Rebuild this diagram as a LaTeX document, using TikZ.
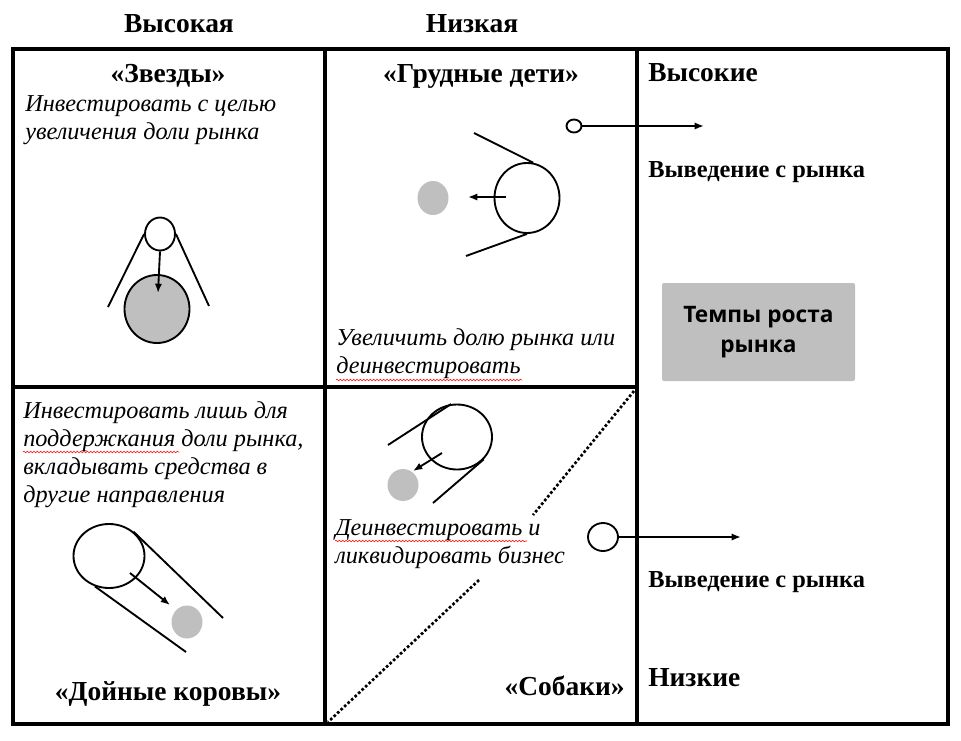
\documentclass[tikz,border=0pt]{standalone}
\usepackage{fontspec}
\setmainfont{Liberation Serif}
\newfontfamily\boxfont{Open Sans}
\usetikzlibrary{calc,math,shapes.geometric,arrows.meta,decorations.pathmorphing}

\definecolor{dotgray}{RGB}{191,191,191}
\definecolor{boxgray}{RGB}{191,191,191}

\begin{document}
\begin{tikzpicture}[x=0.75pt,y=-0.75pt,
  head/.style={font=\fontsize{20.6}{24}\selectfont\bfseries, inner sep=0pt},
  exit/.style={font=\fontsize{18.3}{22}\selectfont\bfseries, inner sep=0pt},
  note/.style={font=\fontsize{18.2}{21}\selectfont\itshape, align=left, inner sep=0pt},
  ring/.style 2 args={ellipse, draw, line width=1.4pt, inner sep=0pt, minimum width=#1, minimum height=#2},
  dot/.style 2 args={ellipse, fill=dotgray, inner sep=0pt, minimum width=#1, minimum height=#2},
  tail/.style={line width=1.4pt},
  arr/.style={line width=1.4pt, -{Latex[length=7pt,width=5.5pt]}},
  dots/.style={line width=2pt, dash pattern=on 2pt off 1.6pt},
  typo/.style={red, line width=0.4pt, decorate, decoration={snake, amplitude=0.6pt, segment length=2.5pt}}]

  \tikzmath{
    real \xa, \xb, \xc, \xd, \ya, \yb, \yc;
    \xa = 13; \xb = 325; \xc = 637; \xd = 948;
    \ya = 49; \yb = 387; \yc = 724;
  }

  \useasboundingbox (0,0) rectangle (961,740);

  % table
  \draw[line width=2.6pt] (\xa,\ya) rectangle (\xd,\yc);
  \draw[line width=2.6pt] (\xb,\ya) -- (\xb,\yc) (\xc,\ya) -- (\xc,\yc) (\xa,\yb) -- (\xc,\yb);

  % column heads
  \node[head, anchor=base] (high) at (179,32) {Высокая};
  \node[head, anchor=base] (low) at (472,32) {Низкая};

  % quadrant names
  \node[head, anchor=base] (stars) at (168,82) {«Звезды»};
  \node[head, anchor=base] (babies) at (481,82) {«Грудные дети»};
  \node[head, anchor=base] (cows) at (168,700) {«Дойные коровы»};
  \node[head, anchor=base east] (dogs) at (625,695) {«Собаки»};

  % right column
  \node[head, anchor=base west] (hiRate) at (648,81) {Высокие};
  \node[exit, anchor=base west] (hiOut) at (648,177) {Выведение с рынка};
  \node[exit, anchor=base west] (loOut) at (648,587) {Выведение с рынка};
  \node[head, anchor=base west] (loRate) at (648,686) {Низкие};
  \node[fill=boxgray, rounded corners=1.5pt, minimum width=144.75pt, minimum height=73.5pt,
    font=\boxfont\bfseries\fontsize{17}{22.5}\selectfont, align=center] (rate) at (758.5,332) {Темпы роста\\рынка};

  % notes (anchored at the last line)
  \node[note, anchor=base west] (starNote) at (25,139) {Инвестировать с целью\\увеличения доли рынка};
  \node[note, anchor=base west] (babyNote) at (336,373) {Увеличить долю рынка или\\деинвестировать};
  \node[note, anchor=base west] (cowNote) at (23,502) {Инвестировать лишь для\\поддержкания доли рынка,\\вкладывать средства в\\другие направления};
  \node[note, anchor=base west] (dogNote) at (335,563) {Деинвестировать и\\ликвидировать бизнес};
  \draw[typo] (336,380) -- (522,380);
  \draw[typo] (23,452) -- (179,452);
  \draw[typo] (335,541) -- (527,541);

  % stars
  \node[ring={48.75pt}{51pt}, fill=dotgray] (bStar) at (157,309) {};
  \node[ring={22.5pt}{24.75pt}] (sStar) at (160,234) {};
  \coordinate (sL) at (108,307);
  \coordinate (sR) at (209,306);
  \coordinate (sTip) at (158,293);
  \draw[tail] (sStar.west) -- (sL);
  \draw[tail] (sStar.east) -- (sR);
  \draw[arr] (sStar.south) -- (sTip);

  % babies
  \node[ring={48.75pt}{52.5pt}] (qRing) at (527,198) {};
  \node[dot={23.25pt}{25.5pt}] (qDot) at (433,198) {};
  \coordinate (qUp) at (474,133);
  \coordinate (qDn) at (466,256);
  \coordinate (qTail) at (506,197);
  \coordinate (qTip) at (468,197);
  \draw[tail] (qUp) -- (qRing.80);
  \draw[tail] (qDn) -- (qRing.south);
  \draw[arr] (qTail) -- (qTip);
  \node[ring={11.25pt}{9.75pt}] (hiRing) at (574,126) {};
  \coordinate (hiTip) at (704,126);
  \draw[arr] (hiRing.east) -- (hiTip);

  % cows
  \node[ring={53.25pt}{48pt}] (cRing) at (109,556) {};
  \node[dot={23.25pt}{24.75pt}] (cDot) at (187,622) {};
  \coordinate (cUp) at (223,618);
  \coordinate (cDn) at (186,652);
  \coordinate (cTail) at (130,573);
  \coordinate (cTip) at (170,605);
  \draw[tail] (cRing.45) -- (cUp);
  \draw[tail] (cRing.-115) -- (cDn);
  \draw[arr] (cTail) -- (cTip);

  % dogs
  \node[ring={52.5pt}{48.75pt}] (dRing) at (457,437) {};
  \node[dot={23.25pt}{24pt}] (dDot) at (403,485) {};
  \coordinate (dUp) at (388,445);
  \coordinate (dDn) at (433,503);
  \coordinate (dTail) at (442,453);
  \coordinate (dTip) at (413,471);
  \draw[tail] (dUp) -- (dRing.100);
  \draw[tail] (dDn) -- (dRing.-40);
  \draw[arr] (dTail) -- (dTip);
  \node[ring={22.5pt}{21pt}] (loRing) at (603,537) {};
  \coordinate (loTip) at (741,537);
  \draw[arr] (loRing.east) -- (loTip);

  % diagonal
  \draw[dots] (634,391) -- (533,515);
  \draw[dots] (479,580) -- (328,722);
\end{tikzpicture}
\end{document}
